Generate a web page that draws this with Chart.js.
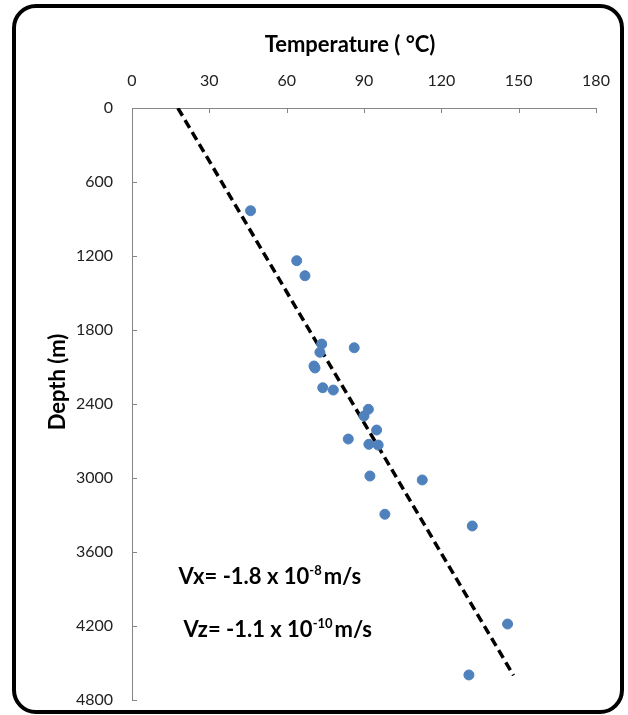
<!DOCTYPE html>
<html>
<head>
<meta charset="utf-8">
<script src="https://cdn.jsdelivr.net/npm/chart.js@4.4.1/dist/chart.umd.min.js"></script>
<style>
  body { margin: 0; background: #fff; }
  #wrap { position: relative; width: 628px; height: 715px; overflow: hidden; }
  #frame {
    position: absolute; left: 12px; top: 4px; width: 612px; height: 710px;
    box-sizing: border-box; border: 4px solid #000; border-radius: 24px;
    pointer-events: none;
  }
</style>
</head>
<body>
<div id="wrap">
  <canvas id="tempChart"></canvas>
  <div id="frame"></div>
</div>
<script>
// measured well temperatures (deg C) and depths (m)
const temps = [46.0, 63.9, 67.1, 73.6, 72.9, 86.2, 70.6, 71.0, 74.0, 78.1, 91.7,
               90.0, 94.9, 83.9, 91.9, 95.5, 92.3, 112.6, 98.1, 132.0, 145.7, 130.7];
const depths = [833, 1238, 1360, 1914, 1981, 1944, 2092, 2108, 2268, 2287, 2443,
                2497, 2611, 2684, 2727, 2733, 2984, 3016, 3294, 3389, 4184, 4597];

// linear trend line end points
const trendTemps = [17.8, 148];
const trendDepths = [0, 4600];

const tempTicks = [0, 30, 60, 90, 120, 150, 180];
const depthTicks = [0, 600, 1200, 1800, 2400, 3000, 3600, 4200, 4800];

const notes = [
  { x: 18, y: 3800, parts: ['Vx= -1.8 x 10', '-8', 'm/s'] },
  { x: 20, y: 4230, parts: ['Vz= -1.1 x 10', '-10', 'm/s'] }
];

const fontFam = 'Lato, "Open Sans", sans-serif';

const innerTicks = {
  id: 'innerTicks',
  afterDraw(chart) {
    const ctx = chart.ctx;
    const xs = chart.scales.x, ys = chart.scales.y;
    const area = chart.chartArea;
    ctx.save();
    ctx.strokeStyle = '#868686';
    ctx.lineWidth = 1;
    ctx.beginPath();
    tempTicks.forEach(function(t) {
      const px = Math.round(xs.getPixelForValue(t)) + 0.5;
      ctx.moveTo(px, area.top);
      ctx.lineTo(px, area.top + 5);
    });
    depthTicks.forEach(function(d) {
      const py = Math.round(ys.getPixelForValue(d)) + 0.5;
      ctx.moveTo(area.left, py);
      ctx.lineTo(area.left + 5, py);
    });
    ctx.stroke();

    // axis titles
    ctx.fillStyle = '#000';
    ctx.font = 'bold 22px ' + fontFam;
    ctx.textAlign = 'center';
    ctx.textBaseline = 'middle';
    ctx.fillText('Temperature ( \u00b0C)', 350, 45);
    ctx.save();
    ctx.translate(58, 382);
    ctx.rotate(-Math.PI / 2);
    ctx.fillText('Depth (m)', 0, 0);
    ctx.restore();

    // velocity notes
    ctx.textAlign = 'left';
    ctx.textBaseline = 'alphabetic';
    notes.forEach(function(n) {
      let x = xs.getPixelForValue(n.x);
      const y = ys.getPixelForValue(n.y) + 7;
      ctx.font = 'bold 22px ' + fontFam;
      ctx.fillText(n.parts[0], x, y);
      x += ctx.measureText(n.parts[0]).width;
      ctx.font = 'bold 13px ' + fontFam;
      ctx.fillText(n.parts[1], x, y - 9);
      x += ctx.measureText(n.parts[1]).width + 2;
      ctx.font = 'bold 22px ' + fontFam;
      ctx.fillText(n.parts[2], x, y);
    });
    ctx.restore();
  }
};

const ctx = document.getElementById('tempChart').getContext('2d');
const chart = new Chart(ctx, {
  type: 'scatter',
  data: {
    datasets: [{
      label: 'Measured',
      data: temps.map(function(t, i) { return { x: t, y: depths[i] }; }),
      backgroundColor: '#4f81bd',
      borderColor: '#4f81bd',
      pointRadius: 5,
      pointHoverRadius: 5
    }, {
      label: 'Trend',
      type: 'line',
      data: trendTemps.map(function(t, i) { return { x: t, y: trendDepths[i] }; }),
      borderColor: '#000',
      borderWidth: 3.5,
      borderDash: [9, 5],
      pointRadius: 0,
      fill: false
    }]
  },
  options: {
    responsive: true,
    maintainAspectRatio: false,
    animation: false,
    layout: { padding: { left: 0, top: 0, right: 32, bottom: 15 } },
    plugins: { legend: { display: false }, tooltip: { enabled: false } },
    scales: {
      x: {
        type: 'linear',
        position: 'top',
        min: 0, max: 180,
        afterBuildTicks: function(s) { s.ticks = tempTicks.map(function(v) { return { value: v }; }); },
        afterFit: function(s) { s.height = 108; },
        grid: { display: true, drawOnChartArea: false, drawTicks: false },
        border: { display: true, color: '#868686', width: 1 },
        ticks: { padding: 18, color: '#222', font: { family: fontFam, size: 16 },
                 callback: function(v) { return String(v); } }
      },
      y: {
        type: 'linear',
        reverse: true,
        min: 0, max: 4800,
        afterBuildTicks: function(s) { s.ticks = depthTicks.map(function(v) { return { value: v }; }); },
        afterFit: function(s) { s.width = 132; s.paddingTop = 0; s.paddingBottom = 0; },
        grid: { display: true, drawOnChartArea: false, drawTicks: false },
        border: { display: true, color: '#868686', width: 1 },
        ticks: { padding: 19, color: '#222', font: { family: fontFam, size: 16 },
                 callback: function(v) { return String(v); } }
      }
    }
  },
  plugins: [innerTicks]
});
</script>
</body>
</html>
